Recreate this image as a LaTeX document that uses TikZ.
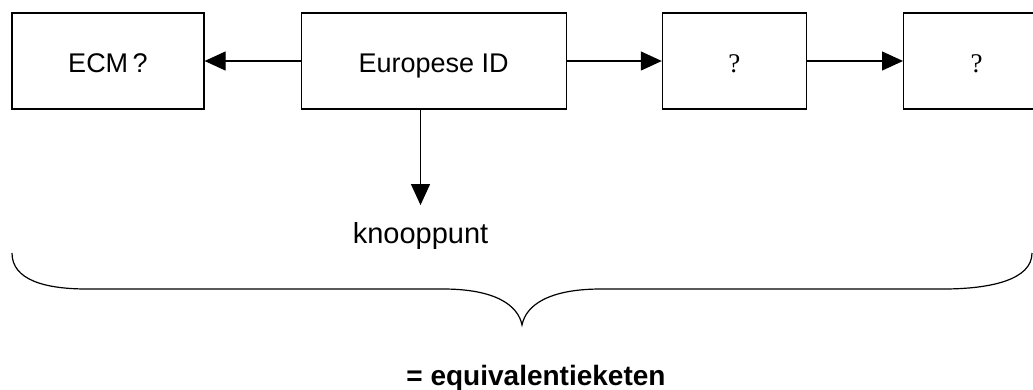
\documentclass[tikz,border=0pt]{standalone}
\usepackage{fontspec}
\setmainfont{Liberation Sans}
\newfontfamily\qfont{Liberation Serif}
\usetikzlibrary{arrows.meta, positioning}
\tikzstyle{chainbox} = [rectangle, draw=black, line width=1.2pt, minimum height=96pt, text height=22pt, text depth=0pt, inner sep=0pt, font=\fontsize{27}{32}\selectfont]
\tikzstyle{link} = [->, line width=1.2pt, >={Triangle[length=21pt,width=19pt]}]
\tikzstyle{plain} = [inner sep=0pt]

\begin{document}
\begin{tikzpicture}[x=1pt, y=-1pt]
  \clip (0,0) rectangle (1033,389);

  % the chain of identifiers
  \node (ecm) [chainbox, minimum width=192pt] at (108,61) {ECM\,?};
  \node (euro) [chainbox, minimum width=265pt, right=96pt of ecm] {Europese ID};
  \node (q1) [chainbox, minimum width=144pt, right=95pt of euro] {\qfont ?};
  \node (q2) [chainbox, minimum width=146pt, right=96pt of q1] {\qfont ?};

  \node (knoop) [plain, anchor=base, font=\fontsize{29}{34}\selectfont] at (420.5,243.3) {knooppunt};

  \draw [link] (euro) -- (ecm);
  \draw [link] (euro) -- (q1);
  \draw [link] (q1) -- (q2);
  \draw [link] (euro.south -| knoop) -- ([yshift=17pt]knoop.north);

  % brace under the chain
  \draw [line width=1.2pt] (12,253) .. controls (12,280) and (45,289) .. (87,289) -- (443,289)
    .. controls (495,289) and (518,305) .. (522,325)
    .. controls (526,305) and (549,289) .. (601,289) -- (943,289)
    .. controls (990,289) and (1032,280) .. (1032,253);

  \node (eq) [plain, anchor=base, font=\bfseries\fontsize{28}{34}\selectfont] at (536,385.5) {= equivalentieketen};

\end{tikzpicture}
\end{document}
